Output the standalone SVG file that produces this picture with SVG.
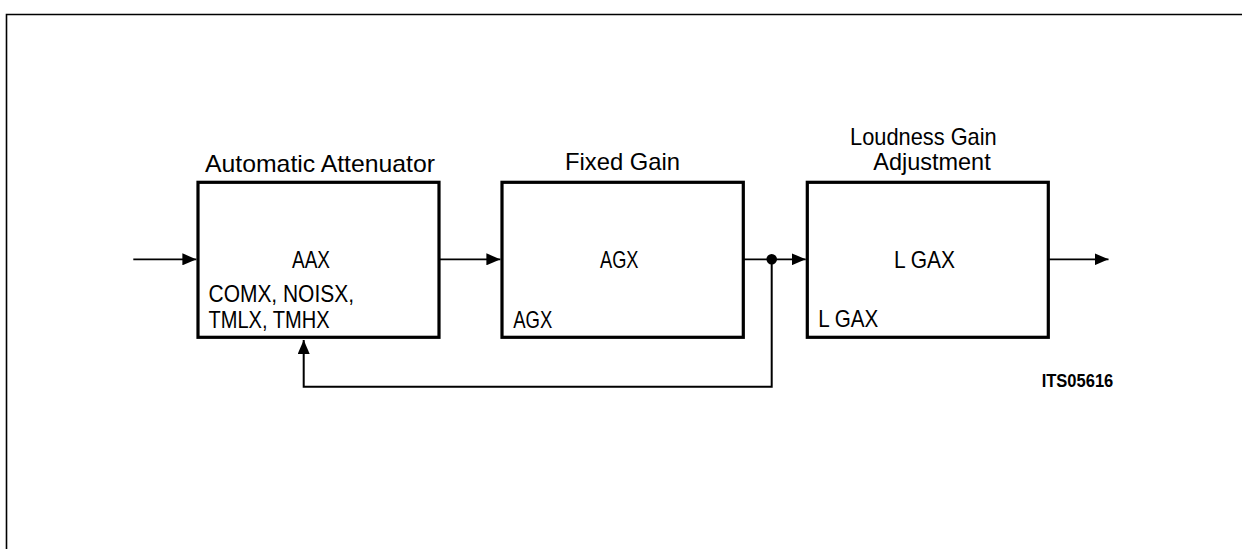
<svg xmlns="http://www.w3.org/2000/svg" width="1242" height="549" viewBox="0 0 1242 549">
<style>
.box{fill:#fff;stroke:#000;stroke-width:3.2}
.ln{fill:none;stroke:#000;stroke-width:1.8}
.fb{fill:none;stroke:#000;stroke-width:2}
.t{font-family:"Liberation Sans",Arial,sans-serif;font-size:24px;fill:#000}
.s{font-family:"Liberation Sans",Arial,sans-serif;font-size:19px;font-weight:bold;fill:#000}
</style>
<defs>
<marker id="ah" viewBox="0 0 14 12" refX="14" refY="6" markerWidth="14" markerHeight="12" markerUnits="userSpaceOnUse" orient="auto">
<path d="M0,0 L14,6 L0,12 Z" fill="#000"/>
</marker>
</defs>
<rect width="1242" height="549" fill="#fff"/>
<path d="M6.5,549 V14.5 H1242" fill="none" stroke="#000" stroke-width="1.6"/>

<g id="aax">
<rect class="box" x="198" y="182.3" width="241" height="155"/>
<text class="t" x="205" y="171.5" textLength="230" lengthAdjust="spacingAndGlyphs">Automatic  Attenuator</text>
<text class="t" x="292" y="268.3" textLength="38" lengthAdjust="spacingAndGlyphs">AAX</text>
<text class="t" x="208.5" y="301.5" textLength="145.5" lengthAdjust="spacingAndGlyphs">COMX,  NOISX,</text>
<text class="t" x="208.5" y="328.3" textLength="121" lengthAdjust="spacingAndGlyphs">TMLX, TMHX</text>
</g>

<g id="agx">
<rect class="box" x="502" y="182.3" width="241.3" height="155"/>
<text class="t" x="565" y="170" textLength="115" lengthAdjust="spacingAndGlyphs">Fixed  Gain</text>
<text class="t" x="600" y="268.3" textLength="38.5" lengthAdjust="spacingAndGlyphs">AGX</text>
<text class="t" x="513.3" y="327.5" textLength="39" lengthAdjust="spacingAndGlyphs">AGX</text>
</g>

<g id="lgax">
<rect class="box" x="807.3" y="182.3" width="241" height="155"/>
<text class="t" x="850" y="145" textLength="146.7" lengthAdjust="spacingAndGlyphs">Loudness  Gain</text>
<text class="t" x="873.3" y="169.5" textLength="117.4" lengthAdjust="spacingAndGlyphs">Adjustment</text>
<text class="t" x="894" y="268.3" textLength="61" lengthAdjust="spacingAndGlyphs">L GAX</text>
<text class="t" x="818.3" y="327" textLength="60" lengthAdjust="spacingAndGlyphs">L GAX</text>
</g>

<g id="connectors">
<line class="ln" x1="133.3" y1="259.3" x2="196.4" y2="259.3" marker-end="url(#ah)"/>
<line class="ln" x1="439" y1="259.3" x2="500.4" y2="259.3" marker-end="url(#ah)"/>
<line class="ln" x1="743.3" y1="259.3" x2="805.7" y2="259.3" marker-end="url(#ah)"/>
<line class="ln" x1="1048.3" y1="259.3" x2="1108.5" y2="259.3" marker-end="url(#ah)"/>
<circle cx="771.7" cy="259.3" r="5.3" fill="#000"/>
<path class="fb" d="M771.7,259.3 V386.7 H303.7 V340" marker-end="url(#ah)"/>
</g>

<text class="s" x="1041.7" y="386.7" textLength="71.6" lengthAdjust="spacingAndGlyphs">ITS05616</text>
</svg>
